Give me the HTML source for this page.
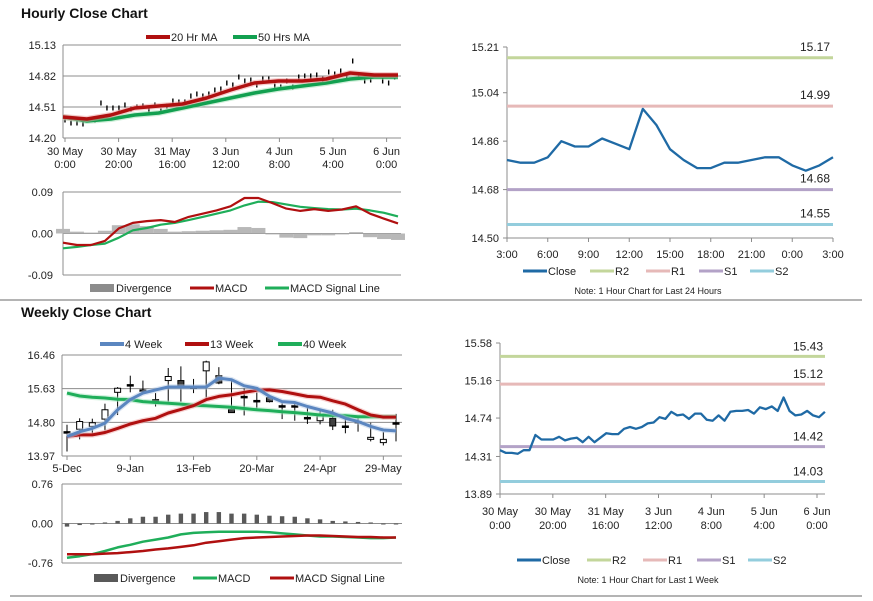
<!DOCTYPE html>
<html><head><meta charset="utf-8"><style>
html,body{margin:0;padding:0;background:#fff;}
svg{display:block;font-family:"Liberation Sans",Arial,sans-serif;}
</style></head><body>
<svg id="s" width="873" height="601" viewBox="0 0 873 601" xmlns="http://www.w3.org/2000/svg">
<rect width="873" height="601" fill="#fff"/>
<text x="21" y="18" font-size="14" font-weight="bold" fill="#111">Hourly Close Chart</text>
<text x="21" y="317" font-size="14" font-weight="bold" fill="#111">Weekly Close Chart</text>
<line x1="0" y1="300" x2="862" y2="300" stroke="#888" stroke-width="1.2"/>
<line x1="10" y1="596" x2="862" y2="596" stroke="#888" stroke-width="1.2"/>
</svg>
<script>
// ---------- data ----------
const hourlyClose=[14.38,14.35,14.35,14.34,14.38,14.38,14.55,14.50,14.50,14.50,14.53,14.49,14.51,14.52,14.47,14.53,14.47,14.52,14.57,14.56,14.56,14.62,14.64,14.62,14.64,14.68,14.69,14.75,14.73,14.81,14.77,14.78,14.73,14.79,14.79,14.72,14.71,14.77,14.71,14.81,14.82,14.82,14.83,14.79,14.86,14.84,14.87,14.82,14.97,14.82,14.77,14.78,14.82,14.77,14.75,14.81];
const ma20=[14.41,14.39,14.43,14.50,14.52,14.54,14.60,14.68,14.75,14.77,14.77,14.79,14.85,14.83,14.83];
const ma50=[14.41,14.37,14.39,14.43,14.45,14.50,14.55,14.60,14.65,14.69,14.72,14.75,14.79,14.81,14.81];
const hMacd=[-0.020,-0.025,-0.025,-0.016,0.011,0.023,0.027,0.029,0.025,0.036,0.043,0.050,0.059,0.077,0.077,0.066,0.054,0.049,0.053,0.049,0.052,0.059,0.043,0.032,0.022];
const hSignal=[-0.032,-0.029,-0.025,-0.022,-0.009,0.007,0.012,0.019,0.023,0.029,0.036,0.043,0.050,0.061,0.069,0.068,0.063,0.058,0.055,0.053,0.052,0.054,0.050,0.045,0.037];
const hDiv=[0.010,0.004,0.002,0.006,0.018,0.020,0.016,0.010,0.004,0.005,0.006,0.007,0.008,0.014,0.012,-0.002,-0.009,-0.010,-0.004,-0.004,-0.002,0.003,-0.008,-0.012,-0.014];
const hourTickTop=["30 May","30 May","31 May","3 Jun","4 Jun","5 Jun","6 Jun"];
const hourTickBot=["0:00","20:00","16:00","12:00","8:00","4:00","0:00"];
const hourTickHours=[0,20,40,60,80,100,120];
const hPriceTicks=[14.20,14.51,14.82,15.13];
const hMacdTicks=[-0.09,0.00,0.09];

const dayClose=[14.79,14.78,14.78,14.80,14.86,14.84,14.84,14.87,14.85,14.83,14.98,14.92,14.83,14.79,14.76,14.76,14.78,14.78,14.79,14.80,14.80,14.77,14.75,14.77,14.80];
const dayTicks=["3:00","6:00","9:00","12:00","15:00","18:00","21:00","0:00","3:00"];
const dayYTicks=[14.50,14.68,14.86,15.04,15.21];
const dayLevels=[15.17,14.99,14.68,14.55];

const weekLevels=[15.43,15.12,14.42,14.03];
const weekYTicks=[13.89,14.31,14.74,15.16,15.58];

const wOpen=[14.57,14.63,14.70,14.88,15.54,15.73,15.60,15.36,15.83,15.83,15.67,16.07,15.95,15.12,15.44,15.34,15.41,15.21,15.21,14.92,14.84,14.90,14.71,14.82,14.38,14.30,14.79];
const wClose=[14.57,14.82,14.79,15.11,15.64,15.73,15.60,15.36,15.93,15.69,15.67,16.29,15.77,15.04,15.44,15.34,15.31,15.21,15.21,14.92,14.96,14.71,14.71,14.82,14.43,14.38,14.79];
const wHigh=[14.74,14.90,14.89,15.26,15.67,15.95,15.83,15.52,16.14,16.18,15.87,16.32,16.16,15.87,15.64,15.54,15.48,15.27,15.29,15.19,15.11,15.11,14.90,14.90,14.79,14.56,15.01];
const wLow=[14.08,14.38,14.53,14.60,14.98,15.54,15.54,15.19,15.31,15.31,15.52,15.41,15.74,15.03,14.97,15.11,15.29,14.88,14.84,14.76,14.75,14.61,14.53,14.57,14.33,14.23,14.33];
const ma4=[14.45,14.57,14.65,14.78,15.11,15.36,15.52,15.60,15.67,15.67,15.67,15.67,15.89,15.85,15.70,15.64,15.44,15.31,15.29,15.19,15.11,15.03,14.90,14.82,14.70,14.61,14.59];
const ma13=[14.45,14.49,14.49,14.55,14.65,14.76,14.84,14.90,15.03,15.12,15.21,15.36,15.44,15.48,15.54,15.59,15.60,15.56,15.50,15.44,15.42,15.33,15.25,15.11,14.98,14.93,14.93];
const ma40=[15.52,15.45,15.42,15.40,15.37,15.36,15.31,15.29,15.27,15.25,15.22,15.21,15.19,15.17,15.14,15.11,15.09,15.06,15.04,15.01,14.98,14.97,14.96,14.94,14.94,14.94,14.94];
const wDiv=[-0.06,-0.03,-0.02,0.02,0.05,0.10,0.13,0.13,0.17,0.19,0.19,0.22,0.22,0.19,0.19,0.17,0.15,0.14,0.13,0.10,0.08,0.05,0.04,0.03,0.02,-0.01,-0.01];
const wMacd=[-0.66,-0.63,-0.59,-0.53,-0.46,-0.41,-0.35,-0.31,-0.27,-0.21,-0.18,-0.17,-0.16,-0.16,-0.16,-0.16,-0.17,-0.19,-0.21,-0.23,-0.25,-0.25,-0.26,-0.27,-0.28,-0.28,-0.27];
const wSignal=[-0.59,-0.59,-0.59,-0.58,-0.57,-0.55,-0.53,-0.50,-0.48,-0.45,-0.42,-0.37,-0.34,-0.31,-0.28,-0.27,-0.26,-0.25,-0.24,-0.23,-0.23,-0.24,-0.25,-0.26,-0.26,-0.27,-0.27];
const weekTicks=["5-Dec","9-Jan","13-Feb","20-Mar","24-Apr","29-May"];
const weekTickIdx=[0,5,10,15,20,25];
const wPriceTicks=[13.97,14.80,15.63,16.46];
const wMacdTicks=[-0.76,0.00,0.76];

// ---------- helpers ----------
const S=document.getElementById('s');
const NS='http://www.w3.org/2000/svg';
function mk(tag,a){const e=document.createElementNS(NS,tag);for(const k in a)e.setAttribute(k,a[k]);S.appendChild(e);return e;}
function lin(d0,d1,r0,r1){return v=>r0+(v-d0)/(d1-d0)*(r1-r0);}
function pts(arr,xf,yf){return arr.map((v,i)=>xf(i).toFixed(1)+','+yf(v).toFixed(1)).join(' ');}
function txt(x,y,s,anchor,size,name){const t=mk('text',{x:x,y:y,'font-size':size||11,'text-anchor':anchor||'start',fill:'#222'});t.textContent=s;


return t;}
function hline(x1,x2,y,col,w,name){const l=mk('line',{x1:x1,x2:x2,y1:y,y2:y,stroke:col,'stroke-width':w});


return l;}
function vline(x,y1,y2,col,w,name){const l=mk('line',{x1:x,x2:x,y1:y1,y2:y2,stroke:col,'stroke-width':w});


return l;}
function poly(arr,xf,yf,col,w,name,glow){
 if(glow){const g=mk('polyline',{points:pts(arr,xf,yf),fill:'none',stroke:glow,'stroke-width':w+2.5,'stroke-linejoin':'round','stroke-opacity':0.5});
 
 }
 const p=mk('polyline',{points:pts(arr,xf,yf),fill:'none',stroke:col,'stroke-width':w,'stroke-linejoin':'round'});
 
 
 return p;}
function legLine(x,y,col,w,label,name){hline(x,x+24,y,col,w,name+'-swatch');txt(x+25,y+4,label,'start',11,name+'-label');}
function legBox(x,y,col,label,name){const r=mk('rect',{x:x,y:y-4,width:24,height:8,fill:col});


txt(x+26,y+4,label,'start',11,name+'-label');}

// ---------- Chart 1: hourly price ----------
const hx=lin(0,125,65,400);
const y1=lin(14.20,15.13,138,45);
hPriceTicks.forEach((v,i)=>{hline(63,401,y1(v),'#8c8c8c',1,'hourly-grid');txt(56,y1(v)+4,v.toFixed(2),'end',11,'hourly-y-tick');});
vline(63,45,138,'#8c8c8c',1,'hourly-y-axis');
hourTickHours.forEach((h,i)=>{vline(hx(h),138,142,'#8c8c8c',1,'hourly-x-tick');txt(hx(h),155,hourTickTop[i],'middle',11,'hourly-x-label');txt(hx(h),168,hourTickBot[i],'middle',11,'hourly-x-label');});
const hStep=123/(hourlyClose.length-1);
hourlyClose.forEach((v,i)=>{vline(hx(i*hStep),y1(v+0.025),y1(v-0.025),'#000',1.4,'hourly-candle');});
const maX=i=>lin(0,ma20.length-1,63,398)(i);
poly(ma50,maX,y1,'#12a050',3.5,'ma50-line','#9fe0b4');
poly(ma20,maX,y1,'#b01010',3.5,'ma20-line','#f0a0a0');
legLine(146,37,'#b01010',4,'20 Hr MA','legend-20hr-ma');
legLine(233,37,'#12a050',4,'50 Hrs MA','legend-50hrs-ma');

// ---------- Chart 1b: hourly MACD ----------
const ym1=lin(-0.09,0.09,275,192);
hMacdTicks.forEach(v=>{hline(63,401,ym1(v),'#8c8c8c',1,'hourly-macd-grid');txt(53,ym1(v)+4,v.toFixed(2),'end',11,'hourly-macd-y-tick');});
vline(63,192,275,'#8c8c8c',1,'hourly-macd-y-axis');
const mX=lin(0,hMacd.length-1,63,398);
const bw=(398-63)/(hMacd.length-1);
hDiv.forEach((v,i)=>{const y0=ym1(0),yv=ym1(v);const r=mk('rect',{x:mX(i)-bw/2,y:Math.min(y0,yv),width:bw,height:Math.abs(yv-y0),fill:'#b8b8b8'});

});
poly(hSignal,mX,ym1,'#1fae5a',2.2,'hourly-signal-line');
poly(hMacd,mX,ym1,'#b01010',2.2,'hourly-macd-line');
legBox(90,288,'#8c8c8c','Divergence','legend-hourly-divergence');
legLine(190,288,'#b01010',3,'MACD','legend-hourly-macd');
legLine(265,288,'#1fae5a',3,'MACD Signal Line','legend-hourly-signal');

// ---------- Chart 3: last 24 hours ----------
const dx=lin(0,24,507,833);
const dy=lin(14.50,15.21,238,47);
const levCols=['#c3d69b','#e6b9b8','#b3a2c7','#93cddd'];
const levNames=['r2','r1','s1','s2'];
vline(507,47,238,'#8c8c8c',1,'day-y-axis');
hline(507,833,238,'#8c8c8c',1,'day-x-axis');
dayYTicks.forEach(v=>{hline(503,507,dy(v),'#8c8c8c',1,'day-y-tick-mark');txt(499,dy(v)+4,v.toFixed(2),'end',11,'day-y-tick');});
dayTicks.forEach((t,i)=>{vline(dx(i*3),238,242,'#8c8c8c',1,'day-x-tick');txt(dx(i*3),258,t,'middle',11,'day-x-label');});
dayLevels.forEach((v,i)=>{hline(507,833,dy(v),levCols[i],3,'day-level-'+levNames[i]);txt(830,dy(v)-7,v.toFixed(2),'end',12,'day-level-label-'+levNames[i]);});
poly(dayClose,dx,dy,'#1f6aa5',2.3,'day-close-line');
legLine(523,271,'#1f6aa5',3,'Close','legend-day-close');
legLine(590,271,levCols[0],3,'R2','legend-day-r2');
legLine(646,271,levCols[1],3,'R1','legend-day-r1');
legLine(699,271,levCols[2],3,'S1','legend-day-s1');
legLine(750,271,levCols[3],3,'S2','legend-day-s2');
txt(648,294,'Note: 1 Hour Chart for Last 24 Hours','middle',9,'day-note');

// ---------- Chart 4: last 1 week ----------
const kx=lin(0,120,500,817);
const ky=lin(13.89,15.58,494,343);
vline(500,343,494,'#8c8c8c',1,'week-y-axis');
hline(500,825,494,'#8c8c8c',1,'week-x-axis');
weekYTicks.forEach(v=>{hline(496,500,ky(v),'#8c8c8c',1,'week-y-tick-mark');txt(492,ky(v)+4,v.toFixed(2),'end',11,'week-y-tick');});
hourTickHours.forEach((h,i)=>{vline(kx(h),494,498,'#8c8c8c',1,'week-x-tick');txt(kx(h),515,hourTickTop[i],'middle',11,'week-x-label');txt(kx(h),529,hourTickBot[i],'middle',11,'week-x-label');});
weekLevels.forEach((v,i)=>{hline(500,825,ky(v),levCols[i],3,'week-level-'+levNames[i]);txt(823,ky(v)-6,v.toFixed(2),'end',12,'week-level-label-'+levNames[i]);});
const kStep=123/(hourlyClose.length-1);
poly(hourlyClose,i=>kx(i*kStep),ky,'#1f6aa5',2.3,'week-close-line');
legLine(517,560,'#1f6aa5',3,'Close','legend-week-close');
legLine(587,560,levCols[0],3,'R2','legend-week-r2');
legLine(643,560,levCols[1],3,'R1','legend-week-r1');
legLine(697,560,levCols[2],3,'S1','legend-week-s1');
legLine(748,560,levCols[3],3,'S2','legend-week-s2');
txt(648,583,'Note: 1 Hour Chart for Last 1 Week','middle',9,'week-note');

// ---------- Chart 2: weekly candles ----------
const wx=lin(0,26,67,396);
const wy=lin(13.97,16.46,456,355);
wPriceTicks.forEach(v=>{hline(62,402,wy(v),'#8c8c8c',1,'weekly-grid');txt(55,wy(v)+4,v.toFixed(2),'end',11,'weekly-y-tick');});
vline(62,355,456,'#8c8c8c',1,'weekly-y-axis');
weekTicks.forEach((t,i)=>{vline(wx(weekTickIdx[i]),456,460,'#8c8c8c',1,'weekly-x-tick');txt(wx(weekTickIdx[i]),472,t,'middle',11,'weekly-x-label');});
wOpen.forEach((o,i)=>{
 const c=wClose[i],x=wx(i);
 vline(x,wy(wHigh[i]),wy(wLow[i]),'#000',1,'weekly-candle-wick');
 const top=wy(Math.max(o,c)),bot=wy(Math.min(o,c));
 const r=mk('rect',{x:x-3,y:top,width:6,height:Math.max(bot-top,1.5),fill:c>o?'#fff':(c<o?'#404040':'#000'),stroke:'#000','stroke-width':1});
 
 
});
poly(ma40,wx,wy,'#1fae5a',3,'ma40-line','#a8e6c0');
poly(ma13,wx,wy,'#b01010',3,'ma13-line','#f0a8a8');
poly(ma4,wx,wy,'#5b86c0',3,'ma4-line','#b8cce6');
legLine(100,344,'#5b86c0',4,'4 Week','legend-4-week');
legLine(185,344,'#b01010',4,'13 Week','legend-13-week');
legLine(278,344,'#1fae5a',4,'40 Week','legend-40-week');

// ---------- Chart 2b: weekly MACD ----------
const wm=lin(-0.76,0.76,563,484);
wMacdTicks.forEach(v=>{hline(62,402,wm(v),'#8c8c8c',1,'weekly-macd-grid');txt(53,wm(v)+4,v.toFixed(2),'end',11,'weekly-macd-y-tick');});
vline(62,484,563,'#8c8c8c',1,'weekly-macd-y-axis');
wDiv.forEach((v,i)=>{const y0=wm(0),yv=wm(v);const r=mk('rect',{x:wx(i)-2.2,y:Math.min(y0,yv),width:4.4,height:Math.max(Math.abs(yv-y0),1),fill:'#595959'});

});
poly(wMacd,wx,wm,'#1fae5a',2.5,'weekly-macd-line');
poly(wSignal,wx,wm,'#b01010',2.5,'weekly-signal-line');
legBox(94,578,'#595959','Divergence','legend-weekly-divergence');
legLine(193,578,'#1fae5a',3,'MACD','legend-weekly-macd');
legLine(270,578,'#b01010',3,'MACD Signal Line','legend-weekly-signal');
</script>
</body></html>
